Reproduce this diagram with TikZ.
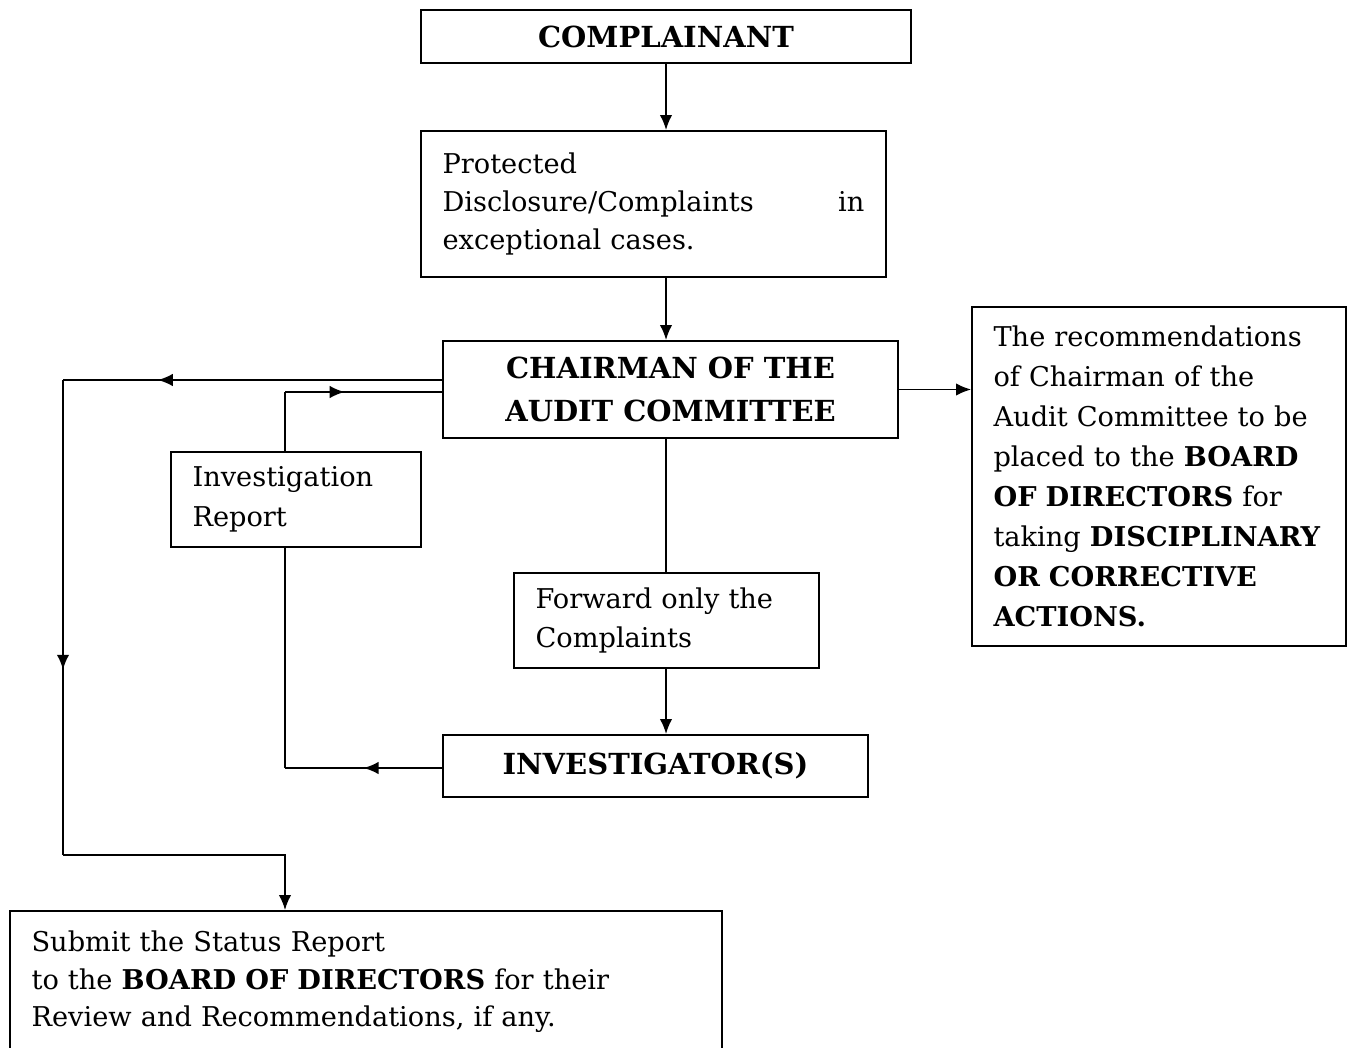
\documentclass[tikz,border=0pt]{standalone}
\usepackage{fontspec}
\setmainfont{DejaVu Serif}
\usetikzlibrary{positioning,decorations.markings,arrows.meta}

\begin{document}
\begin{tikzpicture}[x=0.02cm, y=-0.02cm,
    midarrow/.style={postaction={decorate},
      decoration={markings, mark=at position #1 with {\arrow{Latex[length=3mm,width=2.5mm]}}}}]
  	\tikzstyle{box}=[rectangle, draw=black, line width=1.1pt, inner sep=0pt, font=\fontsize{15.5}{21.8}\selectfont]
  	\tikzstyle{bold}=[box, font=\fontsize{16.5}{24}\selectfont\bfseries, align=center]
  	\tikzstyle{textbox}=[box, align=left, inner xsep=0.43cm]
  	\tikzstyle{connect}=[-{Latex[length=3mm,width=2.5mm]}, line width=1.1pt]
  	\tikzstyle{wire}=[line width=1.1pt]
  	\useasboundingbox (0,0) rectangle (1354,1047);
  	\clip (0,0) rectangle (1354,1047);
  	% boxes
  	\node[bold, minimum width=9.8cm, minimum height=1.06cm] (comp) at (666,36.5) {COMPLAINANT};
  	\node[textbox, text width=8.44cm, minimum height=2.92cm] (prot) at (653.5,204)
  	  {Protected\\ Disclosure/Complaints\hfill in\\ exceptional cases.};
  	\node[bold, minimum width=9.1cm, minimum height=1.94cm] (chair) at (670.5,389.5)
  	  {CHAIRMAN OF THE\\ AUDIT COMMITTEE};
  	\node[textbox, text width=6.62cm, minimum height=6.78cm, font=\fontsize{15.5}{22.8}\selectfont] (recom) at (1159,476.5)
  	  {The recommendations\\ of Chairman of the\\ Audit Committee to be\\
  	   placed to the \textbf{BOARD}\\ \textbf{OF DIRECTORS} for\\
  	   taking \textbf{DISCIPLINARY}\\ \textbf{OR CORRECTIVE}\\ \textbf{ACTIONS.}};
  	\node[textbox, text width=4.14cm, minimum height=1.9cm, font=\fontsize{15.5}{22.6}\selectfont] (rep) at (296,499.5)
  	  {Investigation\\ Report};
  	\node[textbox, text width=5.24cm, minimum height=1.9cm] (fwd) at (666.5,620.5)
  	  {Forward only the\\ Complaints};
  	\node[bold, minimum width=8.5cm, minimum height=1.24cm] (invr) at (655.5,766) {INVESTIGATOR(S)};
  	\node[textbox, text width=13.38cm, minimum height=2.84cm, font=\fontsize{15.5}{21.3}\selectfont] (status) at (366,982)
  	  {Submit the Status Report\\ to the \textbf{BOARD OF DIRECTORS} for their\\
  	   Review and Recommendations, if any.};
  	% corners of the loops
  	\coordinate (c1) at (63,380);
  	\coordinate (c2) at (63,855);
  	\coordinate (c3) at (285,855);
  	\coordinate (c4) at (285,392);
  	\coordinate (c5) at (285,768);
  	\coordinate (axis) at (666,0);
  	% connectors
  	\draw[connect] (comp.south -| axis) -- (prot.north -| axis);
  	\draw[connect] (prot.south -| axis) -- (chair.north -| axis);
  	\draw[wire] (chair.south -| axis) -- (fwd.north -| axis);
  	\draw[connect] (fwd.south -| axis) -- (invr.north -| axis);
  	\draw[connect] (chair.east) -- (recom.west |- chair.east);
  	\draw[wire, midarrow=0.75] (chair.west |- c1) -- (c1);
  	\draw[wire, midarrow=0.61] (c1) -- (c2);
  	\draw[connect] (c2) -- (c3) -- (status.north -| c3);
  	\draw[wire, midarrow=0.5] (invr.west |- c5) -- (c5);
  	\draw[wire] (c5) -- (rep.south -| c5);
  	\draw[wire] (rep.north -| c4) -- (c4);
  	\draw[wire, midarrow=0.38] (c4) -- (chair.west |- c4);
\end{tikzpicture}
\end{document}
